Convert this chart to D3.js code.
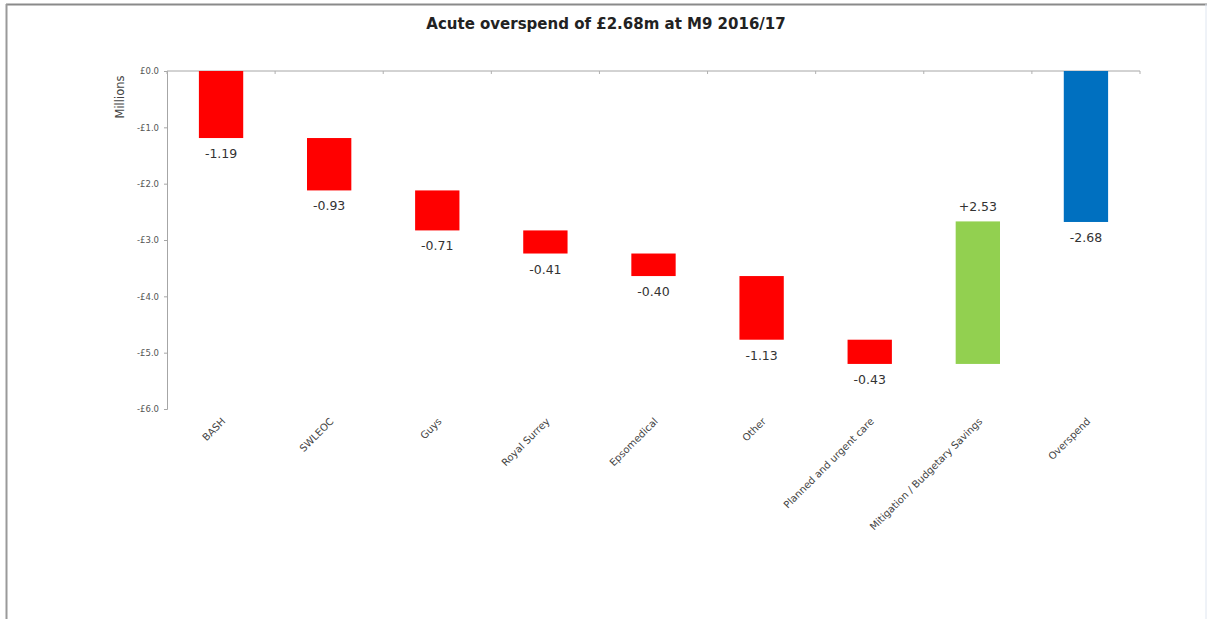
<!DOCTYPE html>
<html>
<head>
<meta charset="utf-8">
<script src="https://cdn.jsdelivr.net/npm/d3@7"></script>
<style>
  html, body { margin: 0; padding: 0; background: #fff; }
  svg { display: block; font-family: "DejaVu Sans", "Liberation Sans", Arial, sans-serif; }
</style>
</head>
<body>
<svg id="chart" width="1207" height="619"></svg>
<script>
// Waterfall of the acute overspend position
const categories = ["BASH", "SWLEOC", "Guys", "Royal Surrey", "Epsomedical", "Other",
  "Planned and urgent care", "Mitigation / Budgetary Savings", "Overspend"];
const changes = [-1.19, -0.93, -0.71, -0.41, -0.40, -1.13, -0.43, 2.53, -2.68];
const kinds = ["step", "step", "step", "step", "step", "step", "step", "step", "total"];
const yTicks = [0, -1, -2, -3, -4, -5, -6];
const title = "Acute overspend of £2.68m at M9 2016/17";
const yTitle = "Millions";

const svg = d3.select("#chart");
const W = 1207, H = 619;

// Frame
svg.append("line").attr("x1", 6).attr("x2", W).attr("y1", 4.5).attr("y2", 4.5)
  .attr("stroke", "#8a8a8a").attr("stroke-width", 2);
svg.append("line").attr("x1", 6.5).attr("x2", 6.5).attr("y1", 4).attr("y2", H)
  .attr("stroke", "#9a9a9a").attr("stroke-width", 2);
svg.append("line").attr("x1", W - 1).attr("x2", W - 1).attr("y1", 4).attr("y2", H)
  .attr("stroke", "#dfe6f0").attr("stroke-width", 1);

const m = { left: 167, right: 1140, top: 71, bottom: 409 };

const x = d3.scaleBand().domain(categories).range([m.left, m.right])
  .paddingInner(0.59).paddingOuter(0.295);
const y = d3.scaleLinear().domain([0, -6]).range([m.top, m.bottom]);

// Running totals for each bar
let running = 0;
const bars = categories.map((c, i) => {
  let start, end;
  if (kinds[i] === "total") { start = 0; end = changes[i]; }
  else { start = running; end = running + changes[i]; running = end; }
  return { cat: c, start, end, value: changes[i], kind: kinds[i] };
});

function colorOf(d) {
  if (d.kind === "total") return "#0070C0";
  return d.value >= 0 ? "#92D050" : "#FF0000";
}

// Y axis
const yAxis = d3.axisLeft(y).tickValues(yTicks).tickSize(3)
  .tickFormat(v => (v < 0 ? "-£" : "£") + Math.abs(v).toFixed(1));
const gy = svg.append("g").attr("transform", `translate(${m.left},0)`).call(yAxis);
gy.select(".domain").attr("stroke", "#a6a6a6");
gy.selectAll(".tick line").attr("stroke", "#a6a6a6");
gy.selectAll(".tick text").attr("fill", "#555").attr("font-size", 8.5)
  .attr("font-family", "DejaVu Sans").attr("x", -8);

// X axis along zero with ticks at band boundaries
const boundaries = categories.map(c => x(c) - x.step() * x.paddingInner() / 2)
  .concat([m.right]);
svg.append("line").attr("x1", m.left).attr("x2", m.right)
  .attr("y1", y(0)).attr("y2", y(0)).attr("stroke", "#a6a6a6");
svg.selectAll(".xtick").data(boundaries).join("line")
  .attr("x1", d => d).attr("x2", d => d)
  .attr("y1", y(0)).attr("y2", y(0) + 3).attr("stroke", "#b0b0b0");

// Bars
svg.selectAll(".bar").data(bars).join("rect")
  .attr("x", d => x(d.cat))
  .attr("width", x.bandwidth())
  .attr("y", d => y(Math.max(d.start, d.end)))
  .attr("height", d => Math.abs(y(d.end) - y(d.start)))
  .attr("fill", colorOf);

// Value labels
svg.selectAll(".val").data(bars).join("text")
  .attr("x", d => x(d.cat) + x.bandwidth() / 2)
  .attr("y", d => d.value >= 0 ? y(Math.max(d.start, d.end)) - 10 : y(Math.min(d.start, d.end)) + 20)
  .attr("text-anchor", "middle").attr("font-size", 12.5).attr("fill", "#333")
  .text(d => (d.value >= 0 ? "+" : "") + d.value.toFixed(2));

// Category labels, rotated
svg.selectAll(".cat").data(categories).join("text")
  .attr("transform", c => `translate(${x(c) + x.bandwidth() / 2 + 5},${m.bottom + 13}) rotate(-45)`)
  .attr("text-anchor", "end").attr("font-size", 10).attr("fill", "#444")
  .text(c => c);

// Y title
svg.append("text").attr("transform", `translate(124,97) rotate(-90)`)
  .attr("text-anchor", "middle").attr("font-size", 11.5).attr("fill", "#444").text(yTitle);

// Title
svg.append("text").attr("x", 606).attr("y", 29).attr("text-anchor", "middle")
  .attr("font-size", 15).attr("font-weight", "bold").attr("fill", "#222").text(title);
</script>
</body>
</html>
